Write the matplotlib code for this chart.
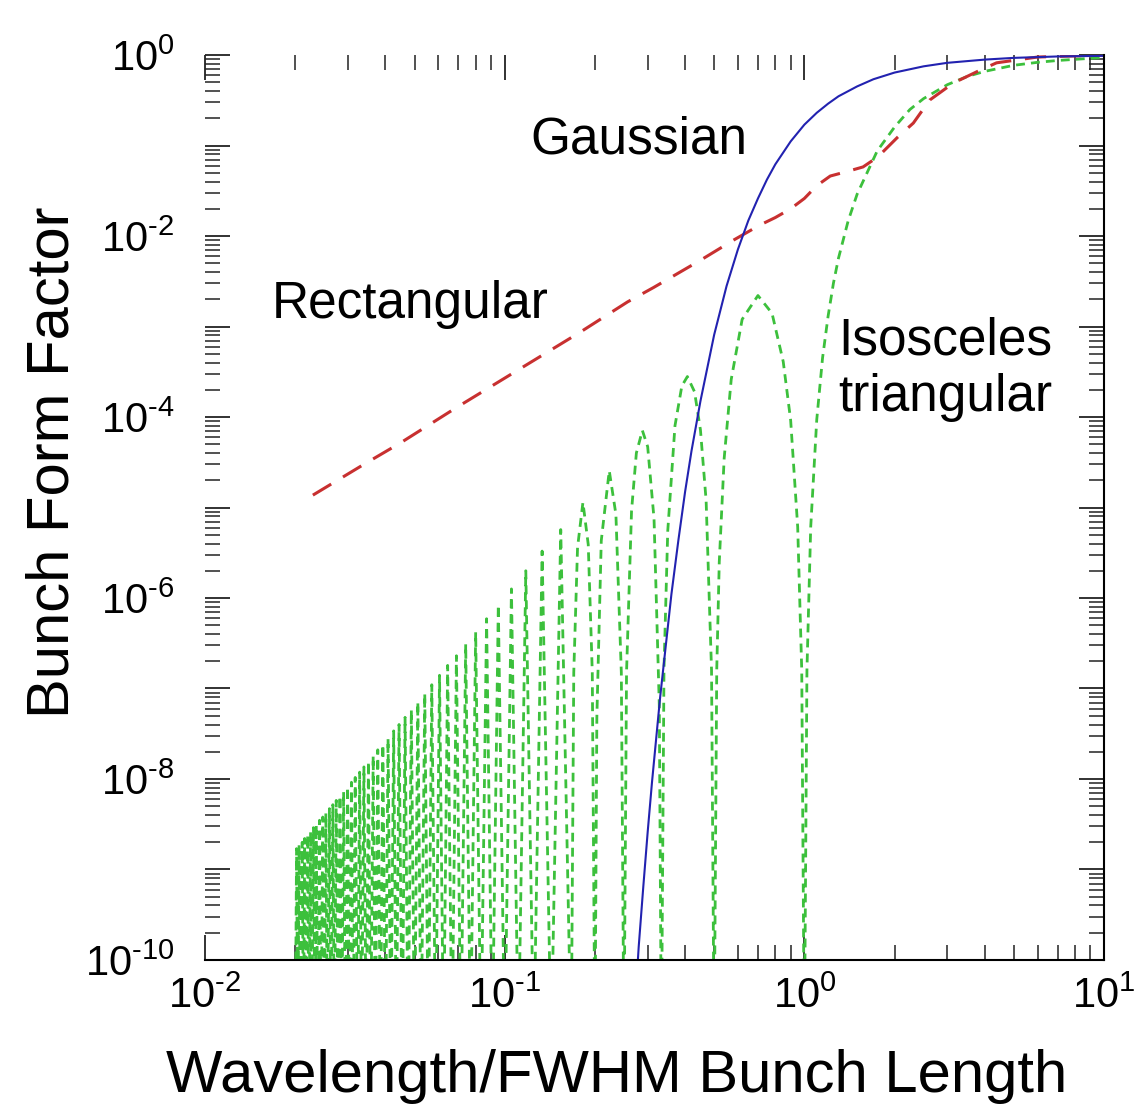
import numpy as np
import matplotlib
matplotlib.use('Agg')
import matplotlib.pyplot as plt
from matplotlib.ticker import LogLocator, FuncFormatter, NullFormatter

plt.rcParams['font.family'] = ['Liberation Sans', 'DejaVu Sans']
plt.rcParams['mathtext.default'] = 'regular'

# Gaussian bunch (blue, solid)
gauss_x = [0.27, 0.28, 0.29, 0.30, 0.31, 0.33, 0.36, 0.38, 0.40, 0.42, 0.45,
           0.50, 0.55, 0.60, 0.65, 0.70, 0.75, 0.80, 0.90, 1.0, 1.1, 1.2, 1.3,
           1.5, 1.7, 2.0, 2.5, 3.0, 4.0, 5.0, 7.0, 10.0]
gauss_y = [2e-11, 1.4e-10, 6.4e-10, 2.6e-9, 9.1e-9, 7.9e-8, 1.1e-6, 4.4e-6,
           1.5e-5, 4.2e-5, 1.5e-4, 8.1e-4, 2.8e-3, 7.1e-3, 1.48e-2, 2.6e-2,
           4.2e-2, 6.2e-2, 0.111, 0.17, 0.23, 0.29, 0.35, 0.45, 0.54, 0.64,
           0.75, 0.82, 0.89, 0.93, 0.964, 0.98]

# Rectangular bunch (red, long dashes)
rect_x = [0.0229, 0.0339, 0.045, 0.0687, 0.109, 0.179, 0.257, 0.314, 0.45,
          0.58, 0.71, 0.80, 0.90, 1.0, 1.1, 1.22, 1.4, 1.57, 1.76, 2.05, 2.31,
          2.62, 3.14, 3.86, 4.38, 6.0, 10.0]
rect_y = [1.37e-5, 3.0e-5, 5.2e-5, 1.26e-4, 3.2e-4, 8.7e-4, 1.87e-3, 2.7e-3,
          5.4e-3, 9.0e-3, 1.32e-2, 1.6e-2, 2.0e-2, 2.6e-2, 3.6e-2, 4.6e-2,
          5.2e-2, 5.8e-2, 7.5e-2, 0.124, 0.177, 0.318, 0.49, 0.68, 0.82, 0.95,
          1.0]

# Isosceles triangular bunch (green, short dashes)
# narrow lobes at short wavelength: zeros and lobe tops
tri_zero_x = [0.1667, 0.1429, 0.125, 0.1111, 0.1, 0.0909, 0.0833, 0.0769,
              0.0714, 0.0667, 0.0625, 0.0588, 0.0556, 0.0526, 0.05, 0.0476,
              0.0455, 0.0435, 0.0417, 0.04, 0.0385, 0.037, 0.0357, 0.0345,
              0.0333, 0.0323, 0.0312, 0.0303, 0.0294, 0.0286, 0.0278, 0.027,
              0.0263, 0.0256, 0.025, 0.0244, 0.0238, 0.0233, 0.0227, 0.0222,
              0.0217, 0.0213, 0.0208, 0.0204, 0.02]
tri_zero_y = 1e-11
tri_peak_x = [0.1538, 0.1333, 0.1176, 0.1053, 0.0952, 0.087, 0.08, 0.0741,
              0.069, 0.0645, 0.0606, 0.0571, 0.0541, 0.0513, 0.0488, 0.0465,
              0.0444, 0.0426, 0.0408, 0.0392, 0.0377, 0.0364, 0.0351, 0.0339,
              0.0328, 0.0317, 0.0308, 0.0299, 0.029, 0.0282, 0.0274, 0.0267,
              0.026, 0.0253, 0.0247, 0.0241, 0.0235, 0.023, 0.0225, 0.022,
              0.0215, 0.0211, 0.0206, 0.0202]
tri_peak_y = [5.7e-6, 3.3e-6, 2.0e-6, 1.26e-6, 8.4e-7, 5.9e-7, 4.2e-7, 3.1e-7,
              2.3e-7, 1.8e-7, 1.4e-7, 1.1e-7, 8.8e-8, 7.1e-8, 5.8e-8, 4.8e-8,
              4.0e-8, 3.4e-8, 2.8e-8, 2.4e-8, 2.1e-8, 1.8e-8, 1.56e-8, 1.36e-8,
              1.19e-8, 1.04e-8, 9.2e-9, 8.2e-9, 7.2e-9, 6.5e-9, 5.8e-9, 5.2e-9,
              4.7e-9, 4.2e-9, 3.8e-9, 3.5e-9, 3.1e-9, 2.9e-9, 2.6e-9, 2.4e-9,
              2.2e-9, 2.0e-9, 1.86e-9, 1.7e-9]
# big lobes and the rise to 1
tri_main_x = [0.17, 0.175, 0.1824, 0.19, 0.196, 0.2, 0.203, 0.21, 0.2233,
              0.235, 0.245, 0.25, 0.255, 0.265, 0.275, 0.288, 0.30, 0.315,
              0.328, 0.3333, 0.34, 0.35, 0.37, 0.39, 0.407, 0.43, 0.45, 0.47,
              0.49, 0.5, 0.51, 0.52, 0.54, 0.57, 0.62, 0.70, 0.78, 0.85, 0.90,
              0.95, 0.98, 1.0, 1.02, 1.05, 1.1, 1.15, 1.2, 1.25, 1.3, 1.4, 1.5,
              1.75, 2.0, 2.25, 2.5, 3.0, 3.5, 4.0, 5.0, 6.0, 7.0, 10.0]
tri_main_y = [1.5e-7, 3.6e-6, 1.14e-5, 3.9e-6, 1.5e-7, 1e-11, 4.8e-8, 4.3e-6,
              2.55e-5, 8.4e-6, 1.5e-7, 1e-11, 1.5e-7, 9.2e-6, 4.0e-5, 7.1e-5,
              4.7e-5, 7.5e-6, 6.5e-8, 1e-11, 1.6e-7, 5.5e-6, 8.0e-5, 2.2e-4,
              2.8e-4, 1.9e-4, 7.2e-5, 1.2e-5, 1.6e-7, 1e-11, 1.6e-7, 2.5e-6,
              3.5e-5, 2.6e-4, 1.2e-3, 2.2e-3, 1.4e-3, 4.1e-4, 9.2e-5, 6.1e-6,
              1.6e-7, 1e-11, 1.6e-7, 6.1e-6, 9.4e-5, 4.5e-4, 1.3e-3, 3.0e-3,
              5.7e-3, 1.47e-2, 2.9e-2, 8.7e-2, 0.16, 0.25, 0.33, 0.47, 0.58,
              0.66, 0.77, 0.83, 0.87, 0.94]

# stitch the green curve together in ascending x
small = sorted([(x, tri_zero_y) for x in tri_zero_x] + list(zip(tri_peak_x, tri_peak_y)))
tri_x = [p[0] for p in small] + tri_main_x
tri_y = [p[1] for p in small] + tri_main_y

fig = plt.figure(figsize=(11.43, 11.16), dpi=100)
ax = fig.add_axes([0.1794, 0.1398, 0.7865, 0.8109])

ax.plot(tri_x, tri_y, color='#3cc03c', lw=2.0, dashes=(3.2, 2.2))
ax.plot(rect_x, rect_y, color='#c83030', lw=2.2, dashes=(7, 4.5))
ax.plot(gauss_x, gauss_y, color='#2222b0', lw=1.5)

ax.set_xscale('log')
ax.set_yscale('log')
ax.set_xlim(1e-2, 1e1)
ax.set_ylim(1e-10, 1e0)

ax.spines['left'].set_visible(False)
ax.spines['top'].set_visible(False)
ax.spines['right'].set_linewidth(1.5)
ax.spines['bottom'].set_linewidth(1.5)

ax.xaxis.set_major_locator(LogLocator(base=10, numticks=30))
ax.xaxis.set_minor_locator(LogLocator(base=10, subs=np.arange(2, 10), numticks=30))
ax.yaxis.set_major_locator(LogLocator(base=10, numticks=30))
ax.yaxis.set_minor_locator(LogLocator(base=10, subs=np.arange(2, 10), numticks=30))


def sup(e):
    s = str(abs(e))
    if e < 0:
        s = '\u2010' + s
    return r'$10^{%s}$' % s


def xfmt(v, pos):
    return sup(round(np.log10(v)))


def yfmt(v, pos):
    e = round(np.log10(v))
    if e % 2 == 0:
        return sup(e)
    return ''


ax.xaxis.set_major_formatter(FuncFormatter(xfmt))
ax.yaxis.set_major_formatter(FuncFormatter(yfmt))
ax.xaxis.set_minor_formatter(NullFormatter())
ax.yaxis.set_minor_formatter(NullFormatter())

ax.tick_params(which='both', direction='in', top=True, right=True,
               labelsize=30, color='#222222')
ax.tick_params(which='major', length=18, width=1.3)
ax.tick_params(which='minor', length=11, width=1.1)
ax.tick_params(axis='x', pad=12)
ax.tick_params(axis='y', pad=22)

ax.text(0.3615, 0.906, 'Gaussian', transform=ax.transAxes, fontsize=37,
        ha='left', va='center')
ax.text(0.0745, 0.724, 'Rectangular', transform=ax.transAxes, fontsize=37,
        ha='left', va='center')
ax.text(0.704, 0.653, 'Isosceles\ntriangular', transform=ax.transAxes,
        fontsize=37, ha='left', va='center', linespacing=1.2)

fig.text(617 / 1143, 1 - 1092 / 1116, 'Wavelength/FWHM Bunch Length',
         fontsize=43, ha='center', va='baseline')
fig.text(53 / 1143, 1 - 462 / 1116, 'Bunch Form Factor', fontsize=43,
         ha='center', va='center', rotation=90)

fig.savefig('out.png', dpi=100)
